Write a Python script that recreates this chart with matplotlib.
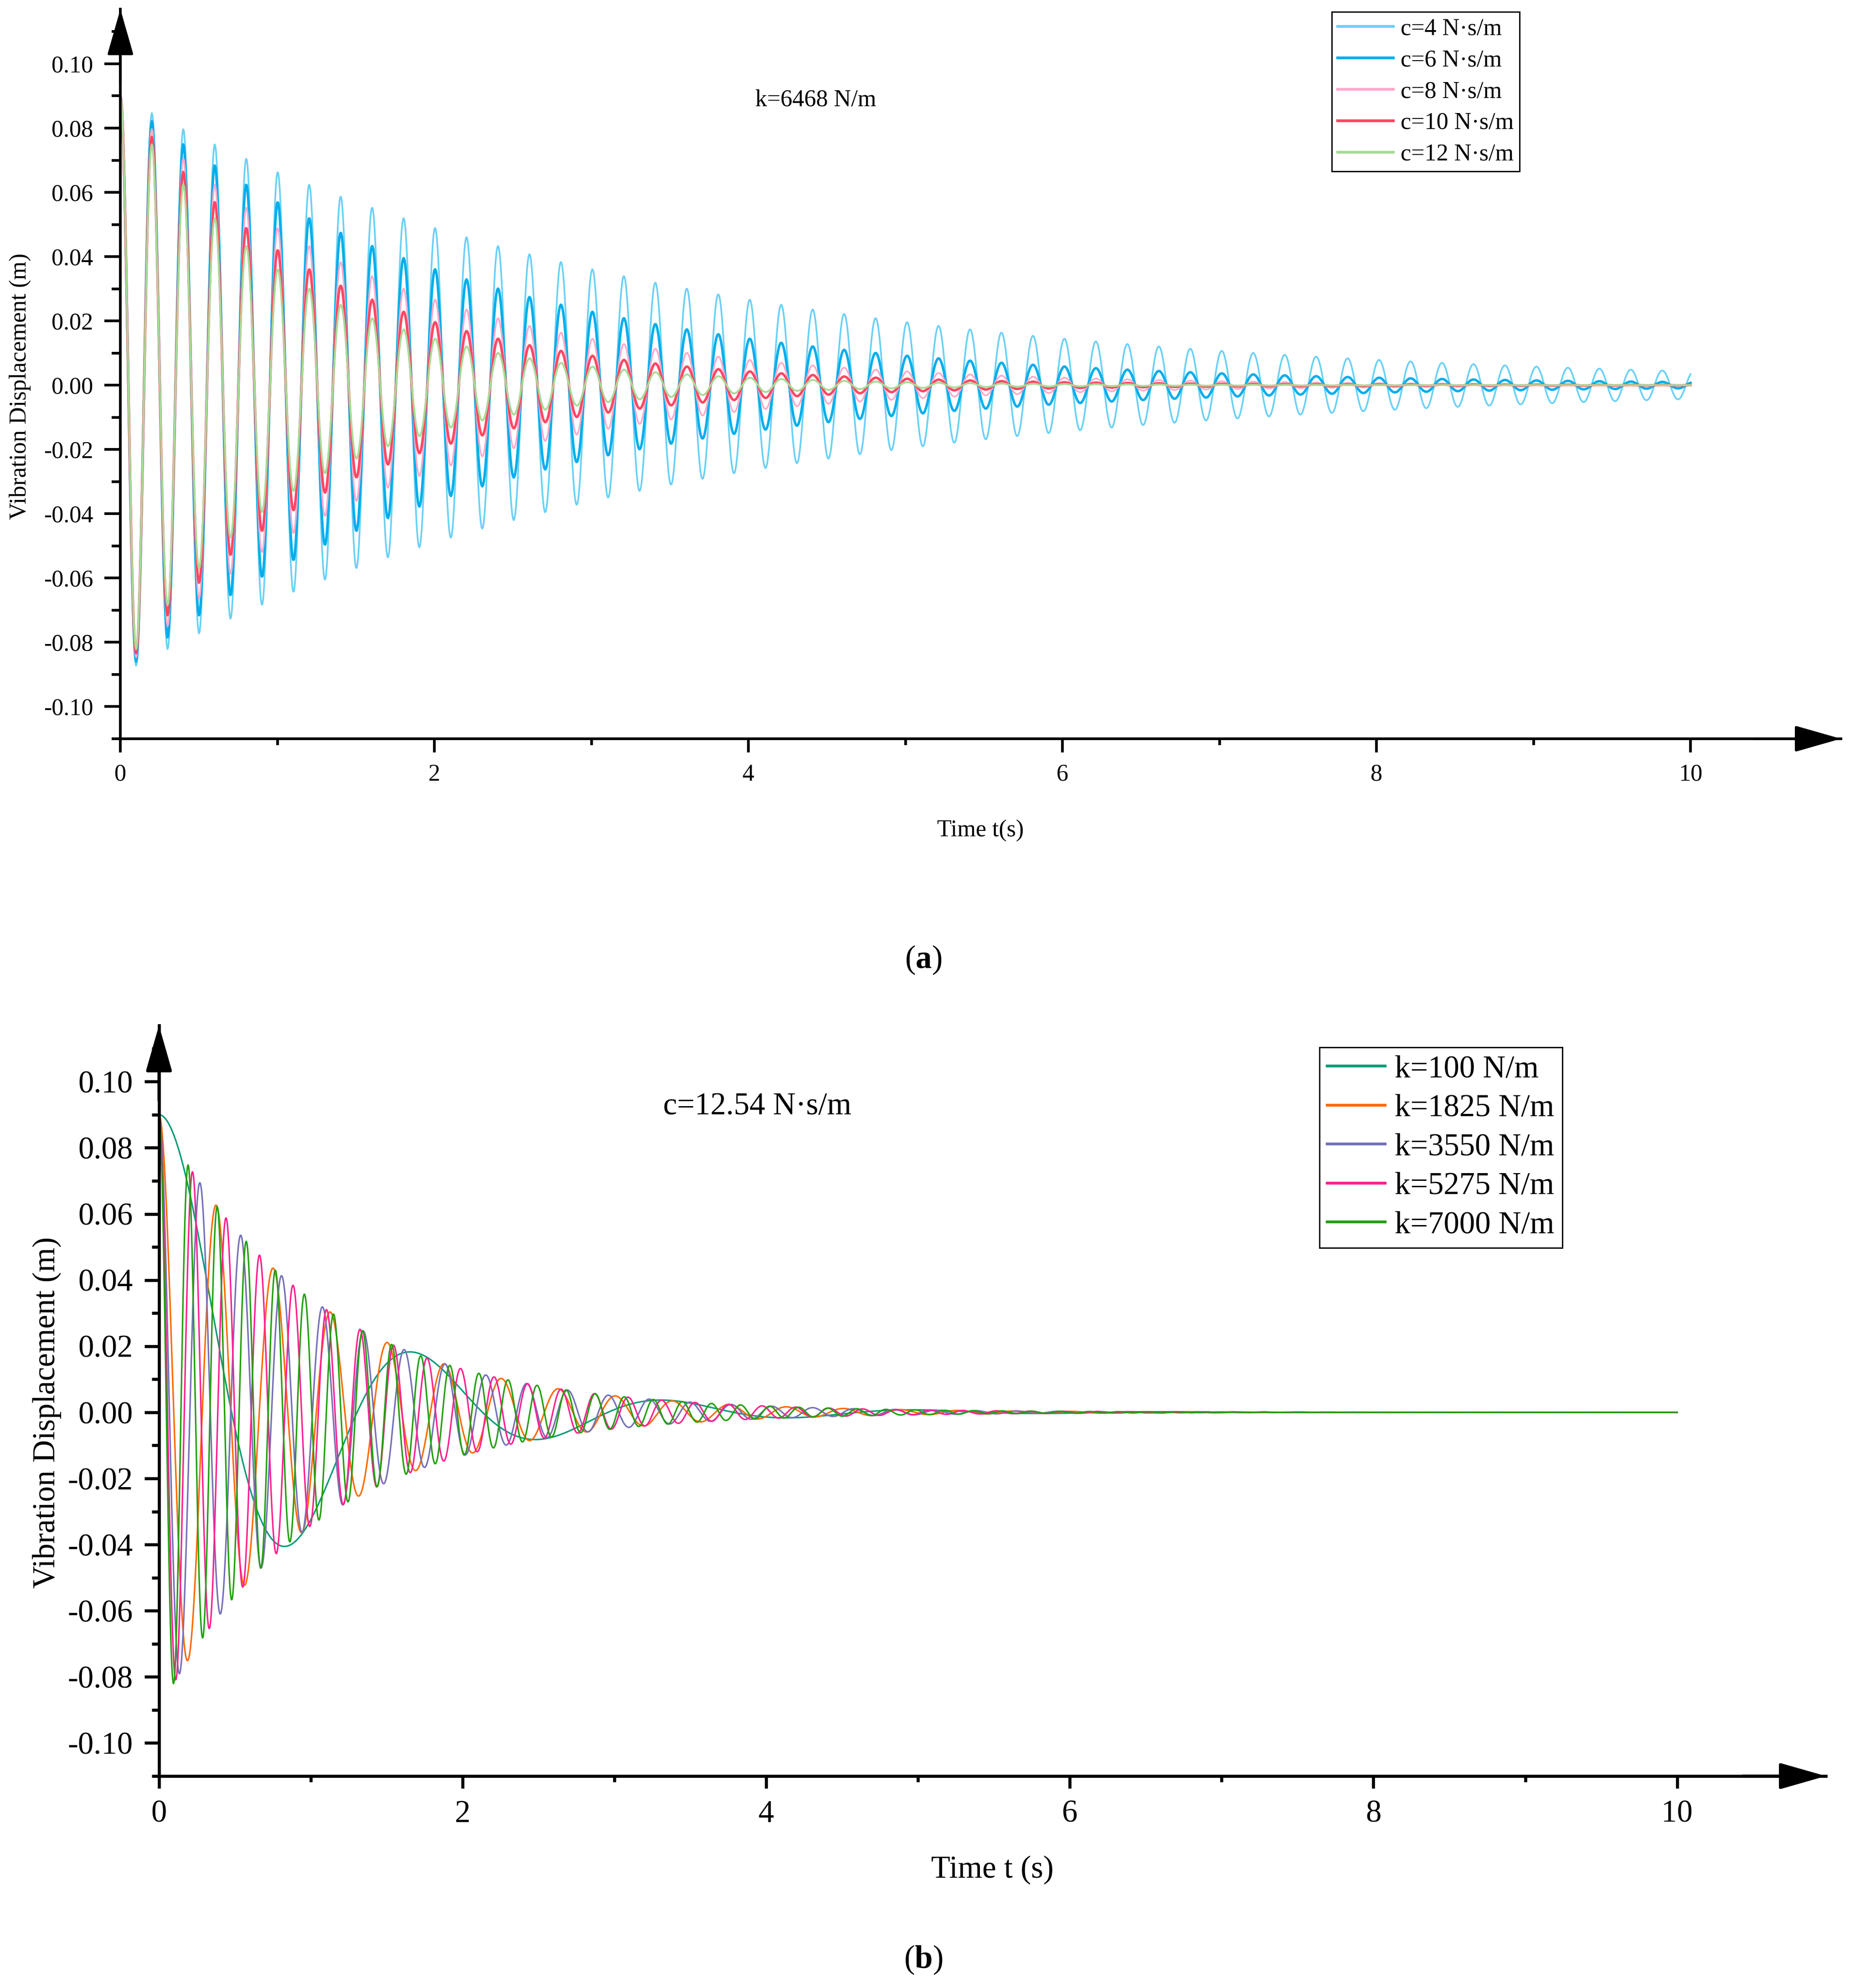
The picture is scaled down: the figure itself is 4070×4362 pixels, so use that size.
import numpy as np
import matplotlib
matplotlib.use('Agg')
import matplotlib.pyplot as plt
from matplotlib.ticker import FixedLocator, FuncFormatter

# values (legend parameters, start value, period)
X0 = 0.09            # initial displacement (m)
T_END = 10.0         # simulated time (s)

K_A = 6468           # panel (a) stiffness, N/m
MASS_A = 6.58        # estimated from the 0.2 s period
C_VALUES_A = [4, 6, 8, 10, 12]
LABELS_A = ['c=4 N·s/m', 'c=6 N·s/m', 'c=8 N·s/m', 'c=10 N·s/m', 'c=12 N·s/m']
COLORS_A = ['#6AD1F6', '#00AEEA', '#FFAACB', '#FF4763', '#A9DA97']
WIDTHS_A = [0.9, 1.3, 0.9, 1.3, 1.0]

C_B = 12.54          # panel (b) damping, N·s/m
MASS_B = 6.5         # estimated from the k=100 curve period
K_VALUES_B = [100, 1825, 3550, 5275, 7000]
LABELS_B = ['k=100 N/m', 'k=1825 N/m', 'k=3550 N/m', 'k=5275 N/m', 'k=7000 N/m']
COLORS_B = ['#0A9C76', '#FF6A00', '#7570B8', '#FF2090', '#22A010']

Y_MAJOR = [-0.10, -0.08, -0.06, -0.04, -0.02, 0.0, 0.02, 0.04, 0.06, 0.08, 0.10]
Y_MINOR = [-0.11, -0.09, -0.07, -0.05, -0.03, -0.01, 0.01, 0.03, 0.05, 0.07, 0.09, 0.11]
X_MAJOR = [0, 2, 4, 6, 8, 10]
X_MINOR = [1, 3, 5, 7, 9]

plt.rcParams['font.family'] = ['Liberation Serif', 'DejaVu Serif']
plt.rcParams['mathtext.fontset'] = 'custom'
plt.rcParams['mathtext.rm'] = 'Liberation Serif'
plt.rcParams['mathtext.bf'] = 'Liberation Serif:bold'
plt.rcParams['axes.unicode_minus'] = False


def free_response(m, k, c, t):
    """Free damped vibration released from X0 at rest."""
    wn = np.sqrt(k / m)
    zeta = c / (2 * np.sqrt(k * m))
    wd = wn * np.sqrt(1 - zeta ** 2)
    s = zeta * wn
    return X0 * np.exp(-s * t) * (np.cos(wd * t) + s / wd * np.sin(wd * t))


def style_axes(ax, xmax, fs, lw, ymaj_len, ymin_len, xmaj_len, xmin_len, pad):
    ax.set_xlim(0, xmax)
    ax.set_ylim(-0.11, 0.117)
    for side in ['top', 'right']:
        ax.spines[side].set_visible(False)
    for side in ['left', 'bottom']:
        ax.spines[side].set_linewidth(lw)
    ax.yaxis.set_major_locator(FixedLocator(Y_MAJOR))
    ax.yaxis.set_minor_locator(FixedLocator(Y_MINOR))
    ax.xaxis.set_major_locator(FixedLocator(X_MAJOR))
    ax.xaxis.set_minor_locator(FixedLocator(X_MINOR))
    ax.yaxis.set_major_formatter(FuncFormatter(lambda v, p: f'{v:.2f}'))
    ax.xaxis.set_major_formatter(FuncFormatter(lambda v, p: f'{v:g}'))
    ax.tick_params(axis='y', which='major', length=ymaj_len, width=lw, labelsize=fs, pad=pad)
    ax.tick_params(axis='y', which='minor', length=ymin_len, width=lw)
    ax.tick_params(axis='x', which='major', length=xmaj_len, width=lw, labelsize=fs, pad=pad)
    ax.tick_params(axis='x', which='minor', length=xmin_len, width=lw)
    head = dict(arrowstyle='-|>,head_length=1.05,head_width=0.3', color='black',
                lw=lw, mutation_scale=20, shrinkA=0, shrinkB=0)
    ax.annotate('', xy=(0, 1), xytext=(0, 0.9), xycoords='axes fraction',
                arrowprops=head, annotation_clip=False)
    ax.annotate('', xy=(1, 0), xytext=(0.95, 0), xycoords='axes fraction',
                arrowprops=head, annotation_clip=False)


def add_legend(ax, anchor, fs, hlen, spacing):
    leg = ax.legend(loc='upper left', bbox_to_anchor=anchor, fontsize=fs,
                    frameon=True, fancybox=False, framealpha=1, edgecolor='black',
                    handlelength=hlen, labelspacing=spacing, borderpad=0.25,
                    handletextpad=0.3, borderaxespad=0)
    leg.get_frame().set_linewidth(0.7)
    for line in leg.get_lines():
        line.set_linewidth(1.5)


fig = plt.figure(figsize=(4070 / 300, 4362 / 300), dpi=300)

# panel (a): damping sweep
t_a = np.linspace(0, T_END, 2001)
ax_a = fig.add_axes([0.0649, 0.6284, 0.9275, 0.3670])
for c, lab, col, w in zip(C_VALUES_A, LABELS_A, COLORS_A, WIDTHS_A):
    ax_a.plot(t_a, free_response(MASS_A, K_A, c, t_a), color=col, lw=w, label=lab)
style_axes(ax_a, 10.958, 12.5, 1.4, 8.4, 4.6, 7.2, 3.4, 6)
ax_a.set_xlabel('Time t(s)', fontsize=12.5)
ax_a.set_ylabel('Vibration Displacement (m)', fontsize=12.5)
ax_a.xaxis.set_label_coords(0.5, -0.111)
ax_a.yaxis.set_label_coords(-0.052, 0.483)
ax_a.text(4.43, 0.0887, 'k=6468 N/m', fontsize=12.5, ha='center', va='center')
add_legend(ax_a, (0.704, 0.996), 12.5, 2.35, 0.4)

# panel (b): stiffness sweep
t_b = np.linspace(0, T_END, 4001)
ax_b = fig.add_axes([0.0857, 0.1066, 0.8986, 0.3776])
for k, lab, col in zip(K_VALUES_B, LABELS_B, COLORS_B):
    ax_b.plot(t_b, free_response(MASS_B, k, C_B, t_b), color=col, lw=0.8, label=lab)
style_axes(ax_b, 10.98, 16.5, 1.6, 7.7, 3.8, 6.5, 3.1, 6)
ax_b.set_xlabel('Time t (s)', fontsize=16.5)
ax_b.set_ylabel('Vibration Displacement (m)', fontsize=16.5)
ax_b.xaxis.set_label_coords(0.5, -0.106)
ax_b.yaxis.set_label_coords(-0.0585, 0.4845)
ax_b.text(3.94, 0.0924, 'c=12.54 N·s/m', fontsize=16.5, ha='center', va='center')
add_legend(ax_b, (0.6962, 0.9709), 16.5, 1.85, 0.32)

fig.text(0.4978, 0.5172, r'($\mathbf{a}$)', fontsize=17, ha='center', va='center')
fig.text(0.4978, 0.0142, r'($\mathbf{b}$)', fontsize=17, ha='center', va='center')

fig.savefig('out.png', dpi=300)
